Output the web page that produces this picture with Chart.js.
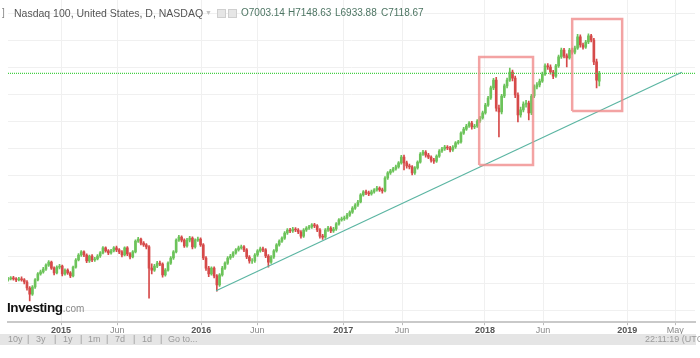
<!DOCTYPE html>
<html>
<head>
<meta charset="utf-8">
<script src="https://cdn.jsdelivr.net/npm/chart.js@4.4.0/dist/chart.umd.min.js"></script>
<style>
  body { margin: 0; width: 700px; height: 358px; overflow: hidden; position: relative; background: #fff;
         font-family: "Liberation Sans", Arial, sans-serif; }
  #chart { position: absolute; left: 0; top: 0; }
  .t { position: absolute; white-space: nowrap; line-height: 12px; top: 7px; }
  .ohlc { font-size: 10px; color: #4d7563; }
  .ico { position: absolute; top: 9px; width: 7px; height: 7px; border: 1px solid #cfcfcf; background: #e6e6e6; }
  #logo { position: absolute; left: 7px; top: 298px; white-space: nowrap; }
  #bar { position: absolute; left: 0; top: 334px; width: 696px; height: 11px; background: #e5e5e5;
         font-size: 9px; color: #9a9a9a; line-height: 11px; white-space: nowrap; }
  #bar span { position: absolute; top: 0; white-space: nowrap; }
</style>
</head>
<body>
<canvas id="chart" width="700" height="336"></canvas>

<div class="t" style="left:2px;color:#888;font-size:10px">]</div>
<div class="t" style="left:14px;color:#555;font-size:10.5px">Nasdaq 100, United States, D, NASDAQ</div>
<div class="t" style="left:205px;color:#c4c4c4;font-size:7px">▼</div>
<div class="ico" style="left:217px"></div>
<div class="ico" style="left:228px"></div>
<div class="t ohlc" style="left:241px">O7003.14</div>
<div class="t ohlc" style="left:288px">H7148.63</div>
<div class="t ohlc" style="left:335px">L6933.88</div>
<div class="t ohlc" style="left:381px">C7118.67</div>

<div id="logo"><span style="font-weight:bold;font-size:13.5px;letter-spacing:-0.4px;color:#111">Investing</span><span style="font-size:10px;color:#8a8a8a">.com</span></div>

<div id="bar">
  <span style="left:8px">10y</span><span style="left:27px">|</span>
  <span style="left:36px">3y</span><span style="left:54px">|</span>
  <span style="left:63px">1y</span><span style="left:80px">|</span>
  <span style="left:88px">1m</span><span style="left:106px">|</span>
  <span style="left:115px">7d</span><span style="left:133px">|</span>
  <span style="left:142px">1d</span><span style="left:160px">|</span>
  <span style="left:168px">Go to...</span>
  <span style="left:645px">22:11:19 (UTC)</span>
</div>

<script>
// weekly bars, x = days from 1 Jan 2015
const weekStart = -137;
const weekStep = 7;

const opens = [
  4060,4075,4090,4075,4060,4075,4060,4030,3940,3850,
  3955,4060,4150,4180,4220,4280,4325,4235,4165,4250,
  4265,4150,4205,4165,4120,4250,4355,4430,4475,4430,
  4340,4415,4355,4370,4415,4460,4535,4490,4460,4490,
  4535,4505,4475,4430,4535,4445,4400,4475,4635,4665,
  4605,4580,4550,4235,4205,4265,4310,4295,4135,4205,
  4310,4385,4475,4650,4695,4650,4565,4650,4680,4550,
  4650,4665,4580,4385,4235,4150,4235,4120,3985,4135,
  4235,4310,4385,4415,4460,4505,4535,4550,4505,4400,
  4340,4340,4430,4490,4520,4505,4415,4325,4400,4490,
  4580,4635,4680,4755,4800,4785,4815,4800,4770,4710,
  4800,4830,4845,4875,4860,4800,4710,4695,4800,4830,
  4785,4815,4890,4950,4965,4980,5020,5065,5125,5170,
  5215,5320,5365,5350,5335,5365,5395,5420,5395,5380,
  5570,5645,5675,5705,5735,5795,5880,5795,5750,5735,
  5645,5720,5805,5925,5955,5910,5880,5835,5820,5895,
  5970,6000,6030,6015,5985,6030,6090,6105,6235,6295,
  6340,6385,6325,6340,6415,6460,6535,6650,6755,6905,
  7020,6605,6550,6785,6935,7020,7140,7050,6800,6505,
  6580,6665,6680,6535,6785,6920,6950,7005,7110,7230,
  7215,7140,7080,7230,7365,7465,7380,7350,7465,7435,
  7495,7660,7540,7510,7585,7675,7615,7290,7003.14
];
const highs = [
  4100,4110,4115,4095,4100,4105,4080,4050,3960,3975,
  4080,4170,4205,4245,4300,4345,4340,4255,4270,4290,
  4280,4225,4225,4185,4265,4375,4450,4495,4490,4445,
  4430,4435,4395,4435,4480,4555,4550,4510,4515,4555,
  4560,4525,4495,4550,4555,4465,4495,4655,4690,4680,
  4630,4600,4570,4300,4290,4335,4340,4315,4230,4330,
  4405,4495,4670,4720,4715,4670,4675,4705,4700,4670,
  4695,4685,4600,4405,4260,4255,4255,4140,4155,4260,
  4330,4405,4440,4480,4525,4560,4575,4570,4525,4420,
  4375,4450,4510,4545,4545,4525,4435,4420,4510,4600,
  4655,4700,4775,4820,4825,4840,4835,4820,4790,4820,
  4850,4870,4895,4900,4880,4820,4735,4820,4855,4850,
  4840,4910,4970,4990,5005,5045,5085,5145,5190,5240,
  5340,5385,5390,5375,5390,5415,5445,5440,5420,5590,
  5665,5700,5730,5760,5815,5905,5910,5820,5775,5755,
  5740,5825,5945,5980,5975,5935,5900,5860,5915,5990,
  6025,6055,6050,6040,6050,6110,6130,6255,6320,6365,
  6405,6410,6365,6435,6485,6560,6675,6780,6930,7045,
  7060,6650,6810,6960,7050,7200,7170,7080,6830,6620,
  6700,6720,6710,6810,6950,6985,7035,7140,7260,7265,
  7245,7165,7255,7390,7495,7490,7410,7490,7495,7525,
  7700,7690,7570,7610,7705,7700,7640,7330,7148.63
];
const lows = [
  4040,4060,4055,4035,4045,4040,4000,3910,3750,3830,
  3935,4045,4130,4160,4200,4260,4215,4135,4150,4225,
  4120,4130,4140,4095,4105,4235,4340,4410,4405,4315,
  4320,4330,4335,4355,4395,4445,4470,4435,4440,4475,
  4480,4450,4400,4415,4420,4370,4385,4460,4615,4580,
  4555,4520,3790,4150,4185,4240,4270,4100,4115,4190,
  4290,4365,4460,4630,4625,4540,4545,4625,4520,4530,
  4630,4555,4360,4200,4110,4130,4090,3895,3965,4115,
  4215,4290,4365,4395,4440,4485,4515,4480,4375,4310,
  4305,4320,4410,4470,4480,4390,4250,4305,4380,4470,
  4560,4615,4660,4735,4760,4765,4775,4745,4680,4690,
  4780,4810,4825,4835,4775,4680,4660,4675,4780,4760,
  4765,4795,4870,4930,4940,4960,5000,5045,5105,5150,
  5200,5300,5325,5310,5315,5345,5375,5370,5345,5365,
  5550,5625,5655,5685,5715,5775,5690,5715,5705,5615,
  5625,5700,5790,5905,5880,5855,5805,5785,5800,5875,
  5950,5980,5990,5955,5965,6010,6070,6085,6215,6275,
  6320,6295,6300,6320,6395,6440,6515,6630,6735,6880,
  6560,6180,6520,6760,6905,7000,7010,6760,6400,6470,
  6550,6620,6430,6510,6760,6890,6920,6985,7090,7180,
  7110,7040,7060,7210,7340,7350,7215,7330,7405,7410,
  7475,7510,7480,7490,7560,7585,7250,6905,6933.88
];
const closes = [
  4075,4090,4075,4060,4075,4060,4030,3940,3850,3955,
  4060,4150,4180,4220,4280,4325,4235,4165,4250,4265,
  4150,4205,4165,4120,4250,4355,4430,4475,4430,4340,
  4415,4355,4370,4415,4460,4535,4490,4460,4490,4535,
  4505,4475,4430,4535,4445,4400,4475,4635,4665,4605,
  4580,4550,4235,4205,4265,4310,4295,4135,4205,4310,
  4385,4475,4650,4695,4650,4565,4650,4680,4550,4650,
  4665,4580,4385,4235,4150,4235,4120,3985,4135,4235,
  4310,4385,4415,4460,4505,4535,4550,4505,4400,4340,
  4340,4430,4490,4520,4505,4415,4325,4400,4490,4580,
  4635,4680,4755,4800,4785,4815,4800,4770,4710,4800,
  4830,4845,4875,4860,4800,4710,4695,4800,4830,4785,
  4815,4890,4950,4965,4980,5020,5065,5125,5170,5215,
  5320,5365,5350,5335,5365,5395,5420,5395,5380,5570,
  5645,5675,5705,5735,5795,5880,5795,5750,5735,5645,
  5720,5805,5925,5955,5910,5880,5835,5820,5895,5970,
  6000,6030,6015,5985,6030,6090,6105,6235,6295,6340,
  6385,6325,6340,6415,6460,6535,6650,6755,6905,7020,
  6605,6550,6785,6935,7020,7140,7050,6800,6505,6580,
  6665,6680,6535,6785,6920,6950,7005,7110,7230,7215,
  7140,7080,7230,7365,7465,7380,7350,7465,7435,7495,
  7660,7540,7510,7585,7675,7615,7290,7020,7118.67
];

const tickDays = [0, 145, 362, 506, 728, 880, 1094, 1244, 1461, 1585];
const tickLabels = ['2015', 'Jun', '2016', 'Jun', '2017', 'Jun', '2018', 'Jun', '2019', 'May'];
const gridPrices = [3600, 4000, 4400, 4800, 5200, 5600, 6000, 6400, 6800, 7200, 7600, 8000];

const lastPrice = 7118.67;
const trendDays = [400, 1602];
const trendPrices = [3901, 7136];
const box1Days = [1079, 1218];
const box1Prices = [5763, 7363];
const box2Days = [1319, 1448];
const box2Prices = [6563, 7926];

const xMin = -137, xMax = 1636;
const yMin = 3434, yMax = 8207;

const upColor = '#6cc35a';
const downColor = '#d64a4a';

const days = opens.map((_, i) => weekStart + i * weekStep);
const colors = closes.map((c, i) => c >= opens[i] ? upColor : downColor);

function box(xs, ys) {
  return [
    { x: xs[0], y: ys[0] }, { x: xs[1], y: ys[0] }, { x: xs[1], y: ys[1] },
    { x: xs[0], y: ys[1] }, { x: xs[0], y: ys[0] }
  ];
}

new Chart(document.getElementById('chart'), {
  type: 'bar',
  data: {
    datasets: [
      {
        type: 'line',
        data: box(box1Days, box1Prices),
        borderColor: 'rgba(240,140,140,0.8)',
        borderWidth: 2.5,
        borderJoinStyle: 'miter',
        pointRadius: 0,
        order: 0
      },
      {
        type: 'line',
        data: box(box2Days, box2Prices),
        borderColor: 'rgba(240,140,140,0.8)',
        borderWidth: 2.5,
        borderJoinStyle: 'miter',
        pointRadius: 0,
        order: 0
      },
      {
        type: 'line',
        data: [{ x: trendDays[0], y: trendPrices[0] }, { x: trendDays[1], y: trendPrices[1] }],
        borderColor: '#5bb5a2',
        borderWidth: 1.2,
        pointRadius: 0,
        order: 1
      },
      {
        type: 'line',
        data: [{ x: xMin, y: lastPrice }, { x: xMax, y: lastPrice }],
        borderColor: '#45d045',
        borderWidth: 1.2,
        borderDash: [1, 1],
        pointRadius: 0,
        order: 2
      },
      {
        data: days.map((d, i) => ({ x: d, y: [opens[i], closes[i]] })),
        backgroundColor: colors,
        barThickness: 2,
        grouped: false,
        order: 3
      },
      {
        data: days.map((d, i) => ({ x: d, y: [lows[i], highs[i]] })),
        backgroundColor: colors,
        barThickness: 1,
        grouped: false,
        order: 4
      }
    ]
  },
  options: {
    responsive: false,
    animation: false,
    events: [],
    layout: { padding: { left: 8, right: 5, top: 0, bottom: 0 } },
    plugins: { legend: { display: false }, tooltip: { enabled: false } },
    scales: {
      x: {
        type: 'linear',
        min: xMin,
        max: xMax,
        offset: false,
        afterBuildTicks: (scale) => { scale.ticks = tickDays.map(v => ({ value: v })); },
        grid: { offset: false, color: '#f0f0f0', tickLength: 3, tickColor: '#bbbbbb' },
        border: { color: '#c9c9c9', width: 2 },
        ticks: {
          autoSkip: false,
          maxRotation: 0,
          padding: 0,
          color: (ctx) => tickLabels[ctx.index] === 'Jun' || tickLabels[ctx.index] === 'May' ? '#888' : '#555',
          font: (ctx) => ({
            family: '"Liberation Sans", Arial, sans-serif',
            size: 9,
            weight: /^\d/.test(tickLabels[ctx.index] || '') ? 'bold' : 'normal'
          }),
          callback: (value, index) => tickLabels[index]
        }
      },
      y: {
        type: 'linear',
        position: 'right',
        min: yMin,
        max: yMax,
        afterBuildTicks: (scale) => { scale.ticks = gridPrices.map(v => ({ value: v })); },
        grid: { color: '#f0f0f0', drawTicks: false },
        border: { display: false },
        ticks: { display: false }
      }
    }
  }
});
</script>
</body>
</html>
